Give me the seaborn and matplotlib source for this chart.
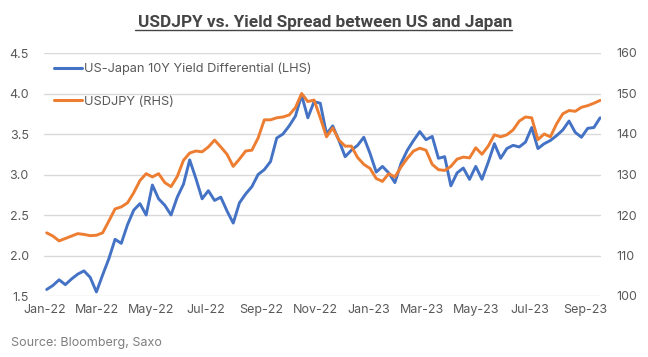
import matplotlib
matplotlib.use("Agg")
import matplotlib.pyplot as plt
import matplotlib.dates as mdates
from matplotlib.lines import Line2D
import seaborn as sns
import pandas as pd

# ---- data (weekly readings) ----
week_start = "2022-01-03"
n_weeks = 90
yield_diff = [1.58, 1.63, 1.70, 1.64, 1.71, 1.77, 1.81, 1.73, 1.55, 1.76,
              1.96, 2.20, 2.15, 2.38, 2.56, 2.64, 2.50, 2.87, 2.70, 2.62,
              2.50, 2.72, 2.88, 3.18, 2.95, 2.70, 2.80, 2.68, 2.72, 2.55,
              2.40, 2.65, 2.76, 2.85, 3.00, 3.06, 3.16, 3.45, 3.50, 3.60,
              3.72, 3.98, 3.70, 3.90, 3.88, 3.50, 3.60, 3.42, 3.22, 3.30,
              3.36, 3.46, 3.26, 3.03, 3.10, 3.02, 2.90, 3.14, 3.30, 3.42,
              3.53, 3.43, 3.47, 3.20, 3.22, 2.86, 3.02, 3.08, 2.94, 3.10,
              2.94, 3.15, 3.38, 3.20, 3.32, 3.36, 3.34, 3.40, 3.58, 3.32,
              3.38, 3.42, 3.48, 3.55, 3.66, 3.52, 3.46, 3.57, 3.58, 3.70]
usdjpy = [115.6, 114.8, 113.6, 114.2, 114.8, 115.4, 115.2, 114.9, 115.0, 115.6,
          118.5, 121.5, 122.0, 123.0, 125.5, 128.5, 130.2, 129.4, 130.2, 128.0,
          127.0, 129.5, 133.5, 135.3, 135.8, 135.6, 136.8, 138.5, 136.8, 135.0,
          132.0, 133.8, 135.8, 136.0, 139.0, 143.5, 143.5, 144.0, 144.2, 144.7,
          146.5, 150.0, 148.0, 148.4, 144.0, 139.3, 141.5, 138.5, 137.0, 137.0,
          134.2, 132.5, 131.5, 129.0, 128.3, 130.2, 129.4, 131.9, 134.0, 135.8,
          136.5, 136.0, 132.5, 131.2, 131.0, 132.0, 133.8, 134.3, 134.1, 136.6,
          135.0, 137.0, 139.8, 139.3, 139.8, 141.0, 143.2, 144.2, 144.0, 138.6,
          140.0, 139.3, 142.5, 145.0, 145.8, 145.6, 146.6, 147.0, 147.6, 148.3]
series_names = ["US-Japan 10Y Yield Differential (LHS)", "USDJPY (RHS)"]
left_ticks = [1.5, 2.0, 2.5, 3.0, 3.5, 4.0, 4.5]
right_ticks = [100, 110, 120, 130, 140, 150, 160]
title = "USDJPY vs. Yield Spread between US and Japan"
source = "Source: Bloomberg, Saxo"

dates = pd.date_range(week_start, periods=n_weeks, freq="W-MON")
df = pd.DataFrame({"date": dates, "yd": yield_diff, "fx": usdjpy})

sns.set_style("white")
plt.rcParams["font.family"] = ["Inter", "DejaVu Sans"]

BLUE = "#4472C4"
ORANGE = "#ED7D31"
GRID = "#D9D9D9"
TXT = "#595959"

fig = plt.figure(figsize=(6.48, 3.57), dpi=100)
ax = fig.add_axes([44 / 648, 1 - 296 / 357, (601 - 44) / 648, (296 - 53) / 357])
ax2 = ax.twinx()

sns.lineplot(data=df, x="date", y="yd", ax=ax, color=BLUE, lw=2.1)
sns.lineplot(data=df, x="date", y="fx", ax=ax2, color=ORANGE, lw=2.1)

ax.set_ylim(1.5, 4.5)
ax2.set_ylim(100, 160)
ax.set_yticks(left_ticks)
ax.set_yticklabels([f"{t:.1f}" for t in left_ticks])
ax2.set_yticks(right_ticks)
ax2.set_yticklabels([str(t) for t in right_ticks])
ax.set_xlim(pd.Timestamp("2021-12-31"), pd.Timestamp("2023-09-19"))
ax.xaxis.set_major_locator(mdates.MonthLocator(bymonth=[1, 3, 5, 7, 9, 11]))
ax.xaxis.set_major_formatter(mdates.DateFormatter("%b-%y"))

for a in (ax, ax2):
    a.set_xlabel("")
    a.set_ylabel("")
    for s in a.spines.values():
        s.set_visible(False)
    a.tick_params(length=0, labelsize=9, labelcolor=TXT)
ax.tick_params(axis="y", pad=11)
ax2.tick_params(axis="y", pad=11)
ax.tick_params(axis="x", pad=6)
ax.grid(axis="y", color=GRID, lw=1)
ax.grid(axis="x", visible=False)
ax2.grid(False)
ax.set_axisbelow(True)

handles = [Line2D([], [], color=BLUE, lw=2.2), Line2D([], [], color=ORANGE, lw=2.2)]
ax2.legend(handles, series_names, loc="upper left", bbox_to_anchor=(0.0, 1.0),
           frameon=False, fontsize=9.2, labelcolor=TXT, handlelength=2.2,
           handletextpad=0.2, labelspacing=1.6, borderaxespad=0.2,
           borderpad=0.55)

fig.text(0.5015, 1 - 27 / 357, title, ha="center", va="baseline", fontsize=12.4,
         fontweight="bold", color="#454545", family=["Roboto", "DejaVu Sans"])
fig.add_artist(Line2D([135 / 648, 512 / 648], [1 - 30 / 357, 1 - 30 / 357],
                      color="#454545", lw=1.0))
fig.text(11 / 648, 1 - 343 / 357, source, ha="left", va="center", fontsize=9,
         color="#7F7F7F")

fig.savefig("out.png", dpi=100)
